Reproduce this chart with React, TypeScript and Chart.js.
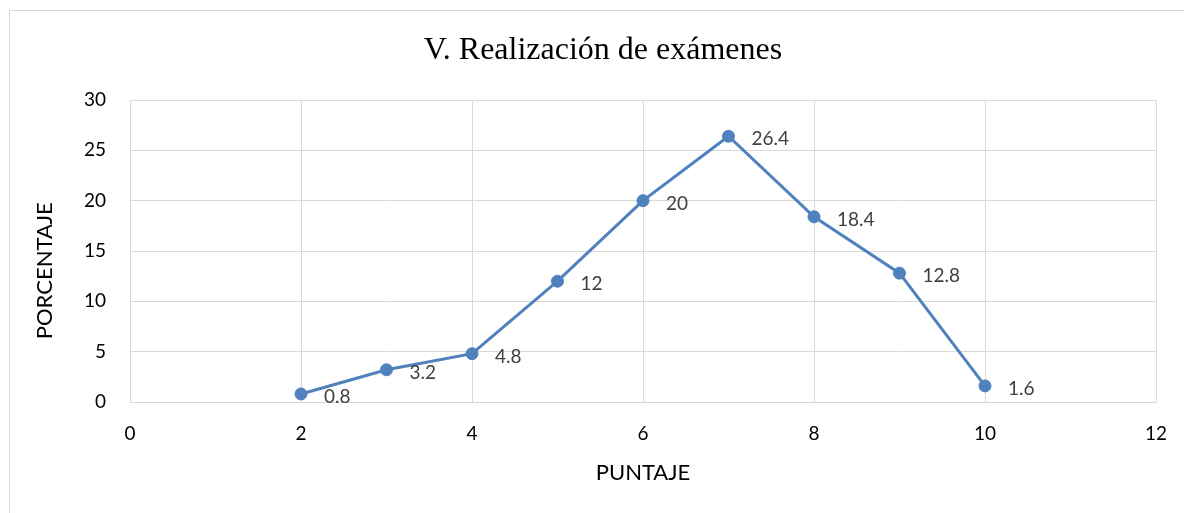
import React, { useEffect, useRef } from "react";
import { Chart, registerables } from "chart.js";

Chart.register(...registerables);

const chartTitle = "V. Realización de exámenes";
const xAxisTitle = "PUNTAJE";
const yAxisTitle = "PORCENTAJE";
const puntajes = [2, 3, 4, 5, 6, 7, 8, 9, 10];
const porcentajes = [0.8, 3.2, 4.8, 12, 20, 26.4, 18.4, 12.8, 1.6];
const xRange = [0, 12];
const yRange = [0, 30];

const LINE_COLOR = "#4f81bd";
const GRID_COLOR = "#d9d9d9";
const SANS = "Lato, 'Open Sans', sans-serif";

const dataLabelPlugin = {
  id: "dataLabels",
  afterDatasetsDraw(chart: any) {
    const { ctx } = chart;
    const meta = chart.getDatasetMeta(0);
    ctx.save();
    ctx.font = `19px ${SANS}`;
    ctx.fillStyle = "#404040";
    ctx.textAlign = "left";
    ctx.textBaseline = "middle";
    meta.data.forEach((pt: any, i: number) => {
      ctx.fillText(String(porcentajes[i]), pt.x + 23, pt.y + 3);
    });
    ctx.restore();
  },
};

export default function App() {
  const canvasRef = useRef<HTMLCanvasElement | null>(null);

  useEffect(() => {
    if (!canvasRef.current) return;
    const chart = new Chart(canvasRef.current, {
      type: "line",
      data: {
        datasets: [
          {
            label: "Porcentaje",
            data: puntajes.map((x, i) => ({ x, y: porcentajes[i] })),
            borderColor: LINE_COLOR,
            backgroundColor: LINE_COLOR,
            borderWidth: 3,
            pointRadius: 6,
            pointBorderWidth: 1,
            pointBackgroundColor: LINE_COLOR,
            pointBorderColor: LINE_COLOR,
            tension: 0,
            fill: false,
            xAxisID: "x",
            yAxisID: "y",
          },
        ],
      },
      options: {
        animation: false,
        responsive: false,
        maintainAspectRatio: false,
        layout: { padding: { left: 12, right: 0, top: 0, bottom: 0 } },
        plugins: {
          legend: { display: false },
          tooltip: { enabled: false },
          title: {
            display: true,
            text: chartTitle,
            color: "#000000",
            font: { family: "'Liberation Serif', 'Times New Roman', serif", size: 32, weight: "normal" },
            padding: { top: 20.5, bottom: 30.1 },
          },
        },
        scales: {
          x: {
            type: "linear",
            min: xRange[0],
            max: xRange[1],
            afterFit: (scale: any) => {
              scale.height = 111;
            },
            ticks: {
              stepSize: 2,
              padding: 3,
              color: "#000000",
              font: { family: SANS, size: 19 },
            },
            grid: {
              color: GRID_COLOR,
              lineWidth: 1,
              drawTicks: true,
              tickLength: 17,
              tickColor: "rgba(0,0,0,0)",
            },
            border: { color: GRID_COLOR, width: 1 },
            title: {
              display: true,
              text: xAxisTitle,
              color: "#000000",
              font: { family: SANS, size: 22 },
              padding: { top: 0, bottom: 27 },
            },
          },
          y: {
            type: "linear",
            position: "left",
            min: yRange[0],
            max: yRange[1],
            afterFit: (scale: any) => {
              scale.width = 108;
            },
            ticks: {
              stepSize: 5,
              padding: 24,
              color: "#000000",
              font: { family: SANS, size: 19 },
            },
            grid: { color: GRID_COLOR, lineWidth: 1, drawTicks: false },
            border: { color: GRID_COLOR, width: 1 },
            title: {
              display: true,
              text: yAxisTitle + "       ",
              color: "#000000",
              font: { family: SANS, size: 22 },
              padding: { top: 10, bottom: 0 },
            },
          },
          yRight: {
            type: "linear",
            position: "right",
            display: true,
            afterFit: (scale: any) => {
              scale.width = 28;
            },
            ticks: { display: false },
            grid: { display: false, drawTicks: false },
            border: { display: false },
          },
        },
      },
      plugins: [dataLabelPlugin],
    });
    return () => chart.destroy();
  }, []);

  return (
    <div
      style={{
        position: "absolute",
        left: 9,
        top: 10,
        width: 1175,
        height: 503,
        boxSizing: "border-box",
        borderTop: `1px solid ${GRID_COLOR}`,
        borderLeft: `1px solid ${GRID_COLOR}`,
        background: "#ffffff",
        overflow: "hidden",
      }}
    >
      <canvas ref={canvasRef} width={1174} height={502} style={{ display: "block" }} />
    </div>
  );
}
